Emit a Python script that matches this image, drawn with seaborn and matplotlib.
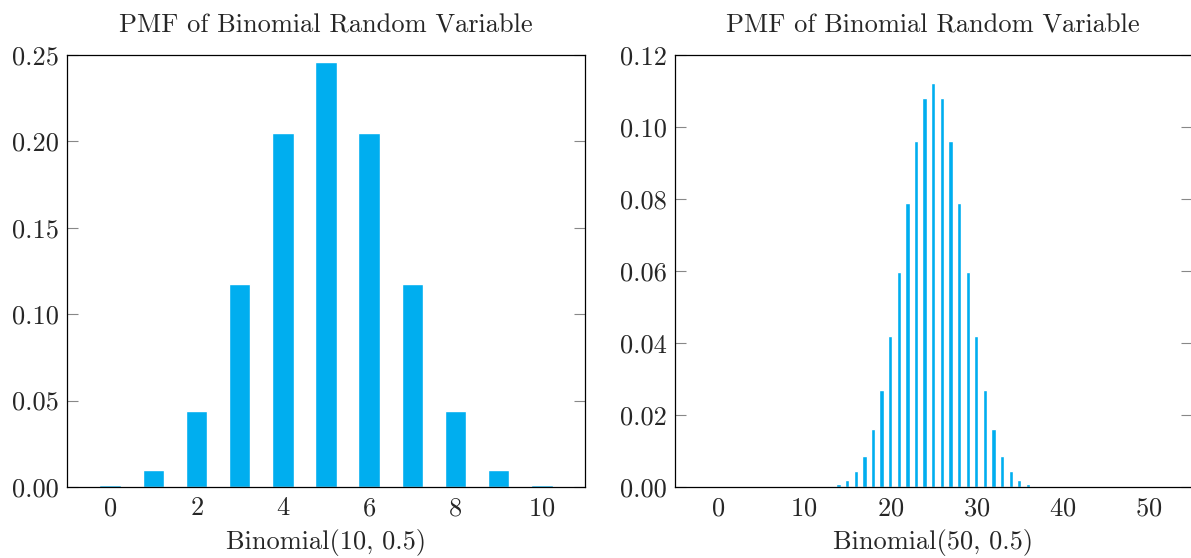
import matplotlib
matplotlib.use("Agg")
import matplotlib.pyplot as plt
import seaborn as sns
import pandas as pd
from matplotlib.ticker import FormatStrFormatter, MultipleLocator

# Dados
k10 = list(range(0, 11))
pmf10 = [0.001, 0.0098, 0.0439, 0.1172, 0.2051, 0.2461, 0.2051, 0.1172, 0.0439, 0.0098, 0.001]

k50 = list(range(0, 51))
pmf50 = [0.0] * 10 + [
    0.00001, 0.00004, 0.0001, 0.0003, 0.0008, 0.0020, 0.0044, 0.0087, 0.0160, 0.0270,
    0.0419, 0.0598, 0.0788, 0.0960, 0.1080, 0.1123, 0.1080, 0.0960, 0.0788, 0.0598,
    0.0419, 0.0270, 0.0160, 0.0087, 0.0044, 0.0020, 0.0008, 0.0003, 0.0001, 0.00004,
    0.00001,
] + [0.0] * 10

titulo = "PMF of Binomial Random Variable"
rotulo10 = "Binomial(10, 0.5)"
rotulo50 = "Binomial(50, 0.5)"
cor = "#00AEEF"

sns.set_style("white")
plt.rcParams["font.family"] = ["cmr10", "DejaVu Serif"]
plt.rcParams["mathtext.fontset"] = "cm"
plt.rcParams["axes.formatter.use_mathtext"] = True

fig = plt.figure(figsize=(11.91, 5.58), dpi=100)
ax1 = fig.add_axes([67 / 1191, 71 / 558, 518 / 1191, 432 / 558])
ax2 = fig.add_axes([675 / 1191, 71 / 558, 516.5 / 1191, 432 / 558])

df10 = pd.DataFrame({"k": k10, "p": pmf10})
df50 = pd.DataFrame({"k": k50, "p": pmf50})

sns.barplot(data=df10, x="k", y="p", native_scale=True, width=0.5, color=cor,
            saturation=1, errorbar=None, ax=ax1)
sns.barplot(data=df50, x="k", y="p", native_scale=True, width=0.5, color=cor,
            saturation=1, errorbar=None, ax=ax2)

configs = [
    (ax1, rotulo10, (-1, 11), (0, 0.25), 2, 0.05),
    (ax2, rotulo50, (-5, 55), (0, 0.12), 10, 0.02),
]
for ax, rot, xl, yl, xstep, ystep in configs:
    ax.set_xlim(*xl)
    ax.set_ylim(*yl)
    ax.xaxis.set_major_locator(MultipleLocator(xstep))
    ax.yaxis.set_major_locator(MultipleLocator(ystep))
    ax.yaxis.set_major_formatter(FormatStrFormatter("%.2f"))
    ax.set_title(titulo, fontsize=19, pad=16)
    ax.set_xlabel(rot, fontsize=19, labelpad=6)
    ax.set_ylabel("")
    ax.tick_params(axis="y", direction="in", length=8, width=0.8, color="#888888",
                   left=True, right=True, labelsize=19, pad=6)
    ax.tick_params(axis="x", length=0, labelsize=19, pad=7)
    for s in ax.spines.values():
        s.set_visible(True)
        s.set_color("black")
        s.set_linewidth(0.9)

fig.savefig("out.png", dpi=100)
